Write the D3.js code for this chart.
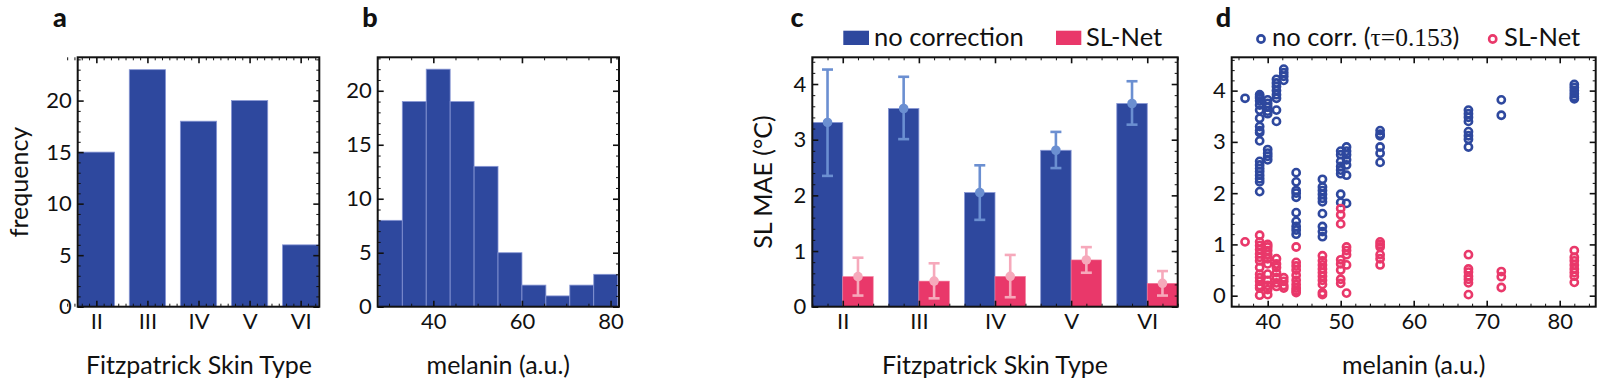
<!DOCTYPE html>
<html><head><meta charset="utf-8">
<script src="https://cdn.jsdelivr.net/npm/d3@7"></script>
<style>
body{margin:0;background:#fff;}
svg text{font-family:Lato,'Noto Sans',sans-serif;fill:#111;}
</style></head><body>
<svg id="chart" width="1600" height="383"></svg>
<script>
// ---------- data ----------
const fitzTypes = ["II","III","IV","V","VI"];
const fitzCounts = [15,23,18,20,6];

const melaninBinEdges = [27.6,33.0,38.4,43.8,49.2,54.6,60.0,65.4,70.8,76.2,81.6];
const melaninCounts = [8,19,22,19,13,5,2,1,2,3];

const maeNoCorr   = [3.31,3.56,2.05,2.81,3.65];
const maeNoCorrLo = [2.35,3.01,1.56,2.49,3.27];
const maeNoCorrHi = [4.26,4.13,2.54,3.14,4.05];
const maeSLNet    = [0.54,0.46,0.545,0.84,0.42];
const maeSLNetLo  = [0.20,0.15,0.17,0.61,0.20];
const maeSLNetHi  = [0.88,0.78,0.93,1.07,0.64];

const melaninCols = [36.9,38.9,40.0,41.2,42.2,43.9,47.5,50.0,50.8,55.4,67.5,72.0,82.0];
const noCorrByCol = [
  [3.85],
  [3.92,3.88,3.85,3.80,3.72,3.62,3.46,3.30,3.22,3.18,3.02,2.62,2.55,2.48,2.42,2.35,2.28,2.22,2.03],
  [3.82,3.75,3.68,3.60,3.55,2.85,2.78,2.72,2.65],
  [4.22,4.15,4.08,4.00,3.92,3.85,3.62,3.40],
  [4.42,4.35,4.28,4.20],
  [2.40,2.22,2.05,2.00,1.92,1.62,1.45,1.35,1.28,1.20],
  [2.27,2.12,2.05,1.98,1.90,1.83,1.60,1.35,1.25,1.15],
  [2.82,2.75,2.62,2.52,2.45,2.38,1.98,1.82],
  [2.90,2.82,2.75,2.65,2.55,2.35,1.80],
  [3.22,3.15,3.12,2.90,2.78,2.60],
  [3.62,3.55,3.48,3.40,3.20,3.12,3.05,2.90],
  [3.82,3.52],
  [4.12,4.06,4.00,3.94,3.88,3.84]
];
const slNetByCol = [
  [1.05],
  [1.18,1.05,0.98,0.90,0.82,0.75,0.68,0.55,0.42,0.35,0.28,0.20,0.15,0.01],
  [1.00,0.95,0.88,0.80,0.72,0.62,0.42,0.30,0.20,0.12,0.02],
  [0.72,0.62,0.55,0.45,0.35,0.25,0.18],
  [0.35,0.28,0.20,0.15],
  [0.95,0.65,0.58,0.50,0.40,0.30,0.22,0.15,0.10,0.06],
  [0.78,0.68,0.60,0.52,0.45,0.38,0.30,0.22,0.06,0.02],
  [1.70,1.58,1.40,0.70,0.62,0.50,0.32,0.24],
  [0.95,0.88,0.80,0.60,0.05],
  [1.05,1.00,0.95,0.80,0.72,0.60],
  [0.80,0.52,0.46,0.38,0.32,0.25,0.02],
  [0.47,0.37,0.16],
  [0.88,0.75,0.68,0.60,0.52,0.45,0.38,0.26]
];

// ---------- style ----------
const BLUE = "#2e489e", PINK = "#e9386a";
const BLUE_ERR = "#6b8fd1", PINK_ERR = "#f6a9bb";
const BLUE_EDGE = "#8796d4", PINK_EDGE = "#f27a9b";
const TICK_FS = 22, TITLE_FS = 25, LEG_FS = 25.5, LETTER_FS = 27;
const TOP = 57.3, BOT = 306.7;
const MR = 3.6, MSW = 2.6;

const svg = d3.select("#chart");

function frameAxes(g, x, y, cfg) {
  const [x0, x1] = x.range();
  const [yb, yt] = y.range();
  const clean = (sel, w) => {
    sel.attr("font-family", null).attr("font-size", null);
    sel.select(".domain").remove();
    sel.selectAll("line").attr("stroke", "#111").attr("stroke-width", w);
    sel.selectAll("text").style("font-size", TICK_FS + "px");
  };
  const xMinor = cfg.xMinor.filter(v => !cfg.xMajor.includes(v));
  const yMinor = cfg.yMinor.filter(v => !cfg.yMajor.includes(v));
  g.append("g").attr("transform", `translate(0,${yb})`)
    .call(d3.axisBottom(x).tickValues(xMinor).tickSize(-3).tickFormat("")).call(s => clean(s, 1));
  g.append("g").attr("transform", `translate(0,${yb})`)
    .call(d3.axisBottom(x).tickValues(cfg.xMajor).tickSize(-6).tickPadding(7).tickFormat(cfg.xFormat)).call(s => clean(s, 1.6));
  g.append("g").attr("transform", `translate(0,${yt})`)
    .call(d3.axisTop(x).tickValues(xMinor).tickSize(-3).tickFormat("")).call(s => clean(s, 1));
  g.append("g").attr("transform", `translate(0,${yt})`)
    .call(d3.axisTop(x).tickValues(cfg.xMajor).tickSize(-6).tickFormat("")).call(s => clean(s, 1.6));
  g.append("g").attr("transform", `translate(${x0},0)`)
    .call(d3.axisLeft(y).tickValues(yMinor).tickSize(-3).tickFormat("")).call(s => clean(s, 1));
  g.append("g").attr("transform", `translate(${x0},0)`)
    .call(d3.axisLeft(y).tickValues(cfg.yMajor).tickSize(-6).tickPadding(6).tickFormat(cfg.yFormat || d3.format("d"))).call(s => clean(s, 1.6));
  g.append("g").attr("transform", `translate(${x1},0)`)
    .call(d3.axisRight(y).tickValues(yMinor).tickSize(-3).tickFormat("")).call(s => clean(s, 1));
  g.append("g").attr("transform", `translate(${x1},0)`)
    .call(d3.axisRight(y).tickValues(cfg.yMajor).tickSize(-6).tickFormat("")).call(s => clean(s, 1.6));
  g.append("rect").attr("x", x0).attr("y", yt).attr("width", x1 - x0).attr("height", yb - yt)
    .attr("fill", "none").attr("stroke", "#111").attr("stroke-width", 2);
}

function stepRange(a, b, s) { const out = []; for (let v = a; v <= b + 1e-9; v += s) out.push(+v.toFixed(6)); return out; }

function titles(xc, xt, yx, yt, letter, lx, ly) {
  svg.append("text").attr("x", xc).attr("y", 374).attr("text-anchor", "middle")
    .style("font-size", TITLE_FS + "px").text(xt);
  if (yt) svg.append("text").attr("transform", `translate(${yx},${(TOP + BOT) / 2}) rotate(-90)`)
    .attr("text-anchor", "middle").attr("dy", "0.35em").style("font-size", TITLE_FS + "px").text(yt);
  svg.append("text").attr("x", lx).attr("y", ly).attr("text-anchor", "middle")
    .style("font-size", LETTER_FS + "px").style("font-weight", 900).text(letter);
}

// ---------- panel a ----------
{
  const x = d3.scaleLinear().domain([0.635, 5.365]).range([77.7, 319.3]);
  const y = d3.scaleLinear().domain([0, 24.2]).range([BOT, TOP]);
  const g = svg.append("g");
  g.selectAll("rect.bar").data(fitzCounts).join("rect").attr("class", "bar")
    .attr("x", (d, i) => x(i + 1 - 0.355)).attr("width", (d, i) => x(i + 1 + 0.355) - x(i + 1 - 0.355))
    .attr("y", d => y(d)).attr("height", d => y(0) - y(d))
    .attr("fill", BLUE).attr("stroke", BLUE_EDGE).attr("stroke-width", 0.8);
  frameAxes(g, x, y, {
    xMajor: [1, 2, 3, 4, 5], xMinor: stepRange(1 - 4 / 7, 5.36, 1 / 7).map(v => +v.toFixed(4)),
    xFormat: d => fitzTypes[d - 1],
    yMajor: [0, 5, 10, 15, 20], yMinor: stepRange(0, 24, 1)
  });
  titles(199, "Fitzpatrick Skin Type", 19, "frequency", "a", 60, 27);
}

// ---------- panel b ----------
{
  const x = d3.scaleLinear().domain([27.45, 81.9]).range([377.7, 619]);
  const y = d3.scaleLinear().domain([0, 23.1]).range([BOT, TOP]);
  const g = svg.append("g");
  const bins = melaninCounts.map((c, i) => ({ x0: melaninBinEdges[i], x1: melaninBinEdges[i + 1], c }));
  g.selectAll("rect.bar").data(bins).join("rect").attr("class", "bar")
    .attr("x", d => x(d.x0)).attr("width", d => x(d.x1) - x(d.x0))
    .attr("y", d => y(d.c)).attr("height", d => y(0) - y(d.c))
    .attr("fill", BLUE).attr("stroke", BLUE_EDGE).attr("stroke-width", 0.8);
  frameAxes(g, x, y, {
    xMajor: [40, 60, 80], xMinor: stepRange(30, 80, 5), xFormat: d3.format("d"),
    yMajor: [0, 5, 10, 15, 20], yMinor: stepRange(0, 23, 1)
  });
  titles(498.3, "melanin (a.u.)", null, null, "b", 370, 27);
}

// ---------- panel c ----------
{
  const x = d3.scaleLinear().domain([0.6, 5.4]).range([812.3, 1177.7]);
  const y = d3.scaleLinear().domain([0, 4.48]).range([BOT, TOP]);
  const g = svg.append("g");
  const rows = fitzTypes.map((t, i) => ({ i: i + 1, b: maeNoCorr[i], bl: maeNoCorrLo[i], bh: maeNoCorrHi[i],
    p: maeSLNet[i], pl: maeSLNetLo[i], ph: maeSLNetHi[i] }));
  g.selectAll("rect.bb").data(rows).join("rect").attr("class", "bb")
    .attr("x", d => x(d.i - 0.4)).attr("width", d => x(d.i) - x(d.i - 0.4))
    .attr("y", d => y(d.b)).attr("height", d => y(0) - y(d.b))
    .attr("fill", BLUE).attr("stroke", BLUE_EDGE).attr("stroke-width", 0.8);
  g.selectAll("rect.pb").data(rows).join("rect").attr("class", "pb")
    .attr("x", d => x(d.i)).attr("width", d => x(d.i + 0.4) - x(d.i))
    .attr("y", d => y(d.p)).attr("height", d => y(0) - y(d.p))
    .attr("fill", PINK).attr("stroke", PINK_EDGE).attr("stroke-width", 0.6);
  const err = (off, col, v, lo, hi) => {
    const eg = g.append("g").attr("stroke", col).attr("stroke-width", 2.6).attr("fill", col);
    rows.forEach(d => {
      const cx = x(d.i + off);
      eg.append("line").attr("x1", cx).attr("x2", cx).attr("y1", y(d[lo])).attr("y2", y(d[hi]));
      eg.append("line").attr("x1", cx - 5.5).attr("x2", cx + 5.5).attr("y1", y(d[lo])).attr("y2", y(d[lo]));
      eg.append("line").attr("x1", cx - 5.5).attr("x2", cx + 5.5).attr("y1", y(d[hi])).attr("y2", y(d[hi]));
      eg.append("circle").attr("cx", cx).attr("cy", y(d[v])).attr("r", 4.8).attr("stroke", "none");
    });
  };
  err(-0.2, BLUE_ERR, "b", "bl", "bh");
  err(0.2, PINK_ERR, "p", "pl", "ph");
  frameAxes(g, x, y, {
    xMajor: [1, 2, 3, 4, 5], xMinor: stepRange(0.6, 5.4, 0.2), xFormat: d => fitzTypes[d - 1],
    yMajor: [0, 1, 2, 3, 4], yMinor: stepRange(0, 4.4, 0.2)
  });
  titles(995, "Fitzpatrick Skin Type", 763, "SL MAE (°C)", "c", 797, 27);
  svg.append("rect").attr("x", 843.3).attr("y", 30.7).attr("width", 25.7).attr("height", 14.3).attr("fill", BLUE);
  svg.append("text").attr("x", 874).attr("y", 45.5).style("font-size", LEG_FS + "px").text("no correction");
  svg.append("rect").attr("x", 1056).attr("y", 30.7).attr("width", 25.3).attr("height", 14.3).attr("fill", PINK);
  svg.append("text").attr("x", 1086).attr("y", 45.5).style("font-size", LEG_FS + "px").text("SL-Net");
}

// ---------- panel d ----------
{
  const x = d3.scaleLinear().domain([35.07, 84.93]).range([1231.7, 1595.7]);
  const y = d3.scaleLinear().domain([-0.215, 4.65]).range([BOT, TOP]);
  const g = svg.append("g");
  const pts = (arr) => arr.flatMap((vals, i) => vals.map(v => ({ m: melaninCols[i], v })));
  g.selectAll("circle.nc").data(pts(noCorrByCol)).join("circle").attr("class", "nc")
    .attr("cx", d => x(d.m)).attr("cy", d => y(d.v)).attr("r", MR)
    .attr("fill", "none").attr("stroke", BLUE).attr("stroke-width", MSW);
  g.selectAll("circle.sl").data(pts(slNetByCol)).join("circle").attr("class", "sl")
    .attr("cx", d => x(d.m)).attr("cy", d => y(d.v)).attr("r", MR)
    .attr("fill", "none").attr("stroke", PINK).attr("stroke-width", MSW);
  frameAxes(g, x, y, {
    xMajor: [40, 50, 60, 70, 80], xMinor: stepRange(36, 84, 2), xFormat: d3.format("d"),
    yMajor: [0, 1, 2, 3, 4], yMinor: stepRange(-0.2, 4.6, 0.2)
  });
  titles(1413.7, "melanin (a.u.)", null, null, "d", 1223.5, 27);
  svg.append("circle").attr("cx", 1261).attr("cy", 39).attr("r", MR).attr("fill", "none").attr("stroke", BLUE).attr("stroke-width", MSW);
  const t = svg.append("text").attr("x", 1272).attr("y", 45.5).style("font-size", LEG_FS + "px");
  t.append("tspan").text("no corr. (");
  t.append("tspan").style("font-family", "'Liberation Serif',serif").text("τ=0.153");
  t.append("tspan").text(")");
  svg.append("circle").attr("cx", 1492.7).attr("cy", 39).attr("r", MR).attr("fill", "none").attr("stroke", PINK).attr("stroke-width", MSW);
  svg.append("text").attr("x", 1504).attr("y", 45.5).style("font-size", LEG_FS + "px").text("SL-Net");
}
</script>
</body></html>
